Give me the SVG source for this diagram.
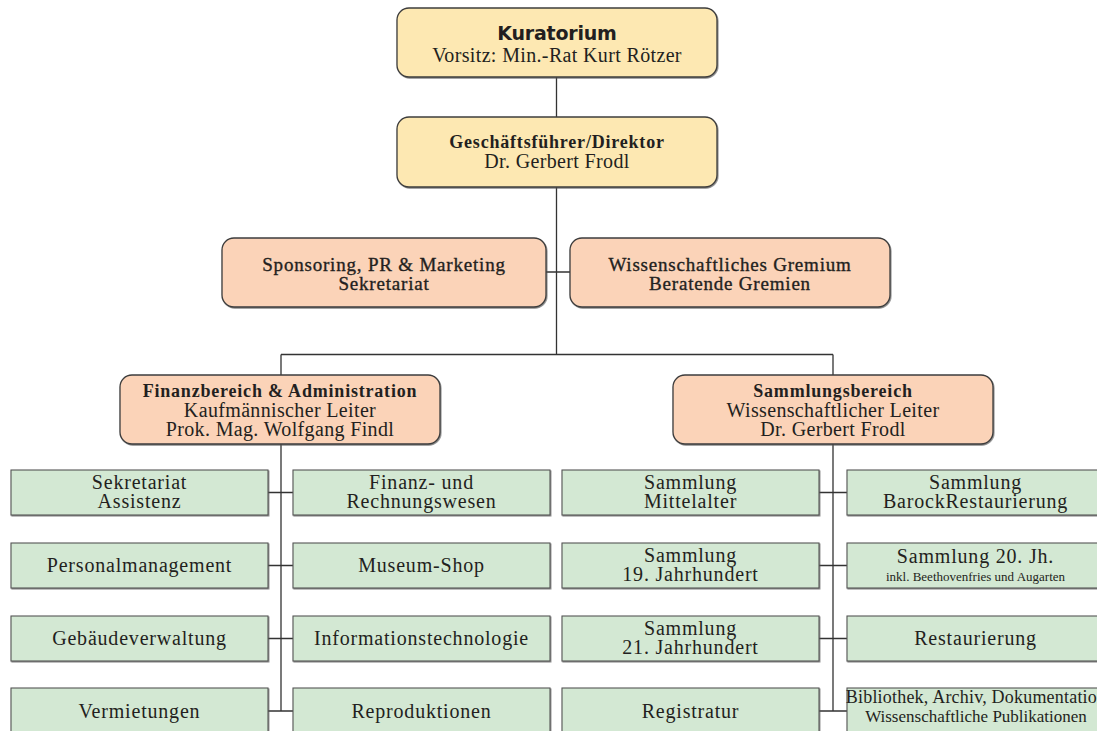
<svg xmlns="http://www.w3.org/2000/svg" width="1097" height="731" viewBox="0 0 1097 731">
<defs>
<filter id="sh" x="-5%" y="-5%" width="110%" height="120%">
<feDropShadow dx="0.8" dy="1" stdDeviation="0.5" flood-color="#555" flood-opacity="0.7"/>
</filter>
</defs>
<style>
.yel{fill:#fde8b2;stroke:#3c3c3c;stroke-width:1.3;filter:url(#sh)}
.sal{fill:#fbd3b8;stroke:#3c3c3c;stroke-width:1.3;filter:url(#sh)}
.grn{fill:#d3e8d3;stroke:#555;stroke-width:1.1;filter:url(#sh)}
text{font-family:"Liberation Serif","Times New Roman",serif;fill:#231f20;text-anchor:middle}
.r{font-size:20px;letter-spacing:0.35px}
.g{font-size:20px;letter-spacing:0.8px}
.b{font-size:18px;font-weight:bold;letter-spacing:0.8px}
.m{font-size:19px;letter-spacing:0.8px;stroke:#231f20;stroke-width:0.35}
.k{font-family:"DejaVu Sans",sans-serif;font-size:19px;font-weight:bold;letter-spacing:-0.2px}
.s{font-size:13px}
.n{font-size:17px}
.c{stroke:#333;stroke-width:1.3;fill:none}
</style>
<rect width="1097" height="731" fill="#ffffff"/>

<g id="connectors">
<path class="c" d="M556.5,77 V354.5 M546,272 H570 M281,354.5 H833 M281,354.5 V375 M833,354.5 V375"/>
<path class="c" d="M281,444 V711 M268,492.5 H293 M268,565.5 H293 M268,638.5 H293 M268,711 H293"/>
<path class="c" d="M833,444 V711 M819,492.5 H847 M819,565.5 H847 M819,638.5 H847 M819,711 H847"/>
</g>

<g id="kuratorium">
<rect class="yel" x="397" y="8" width="320" height="69" rx="12"/>
<text class="k" x="557" y="40">Kuratorium</text>
<text class="r" x="557" y="62">Vorsitz: Min.-Rat Kurt Rötzer</text>
</g>

<g id="direktor">
<rect class="yel" x="397" y="117" width="320" height="70" rx="12"/>
<text class="b" x="557" y="148">Geschäftsführer/Direktor</text>
<text class="r" x="557" y="168">Dr. Gerbert Frodl</text>
</g>

<g id="sponsoring">
<rect class="sal" x="222" y="238" width="324" height="69" rx="12"/>
<text class="m" x="384" y="271">Sponsoring, PR &amp; Marketing</text>
<text class="m" x="384" y="290">Sekretariat</text>
</g>

<g id="gremium">
<rect class="sal" x="570" y="238" width="320" height="69" rx="12"/>
<text class="m" x="730" y="271">Wissenschaftliches Gremium</text>
<text class="m" x="730" y="290">Beratende Gremien</text>
</g>

<g id="finanzbereich">
<rect class="sal" x="120" y="375" width="320" height="69" rx="12"/>
<text class="b" x="280" y="397">Finanzbereich &amp; Administration</text>
<text class="r" x="280" y="416.5">Kaufmännischer Leiter</text>
<text class="r" x="280" y="436">Prok. Mag. Wolfgang Findl</text>
</g>

<g id="sammlungsbereich">
<rect class="sal" x="673" y="375" width="320" height="69" rx="12"/>
<text class="b" x="833" y="397">Sammlungsbereich</text>
<text class="r" x="833" y="416.5">Wissenschaftlicher Leiter</text>
<text class="r" x="833" y="436">Dr. Gerbert Frodl</text>
</g>

<g id="sekretariat">
<rect class="grn" x="11" y="470" width="257" height="45"/>
<text class="g" x="139.5" y="489">Sekretariat</text>
<text class="g" x="139.5" y="508">Assistenz</text>
</g>
<g id="personal">
<rect class="grn" x="11" y="543" width="257" height="45"/>
<text class="g" x="139.5" y="572">Personalmanagement</text>
</g>
<g id="gebaeude">
<rect class="grn" x="11" y="616" width="257" height="45"/>
<text class="g" x="139.5" y="645">Gebäudeverwaltung</text>
</g>
<g id="vermietungen">
<rect class="grn" x="11" y="688" width="257" height="45"/>
<text class="g" x="139.5" y="718">Vermietungen</text>
</g>

<g id="finanzwesen">
<rect class="grn" x="293" y="470" width="257" height="45"/>
<text class="g" x="421.5" y="489">Finanz- und</text>
<text class="g" x="421.5" y="508">Rechnungswesen</text>
</g>
<g id="shop">
<rect class="grn" x="293" y="543" width="257" height="45"/>
<text class="g" x="421.5" y="572">Museum-Shop</text>
</g>
<g id="it">
<rect class="grn" x="293" y="616" width="257" height="45"/>
<text class="g" x="421.5" y="645">Informationstechnologie</text>
</g>
<g id="reproduktionen">
<rect class="grn" x="293" y="688" width="257" height="45"/>
<text class="g" x="421.5" y="718">Reproduktionen</text>
</g>

<g id="mittelalter">
<rect class="grn" x="562" y="470" width="257" height="45"/>
<text class="g" x="690.5" y="489">Sammlung</text>
<text class="g" x="690.5" y="508">Mittelalter</text>
</g>
<g id="jh19">
<rect class="grn" x="562" y="543" width="257" height="45"/>
<text class="g" x="690.5" y="562">Sammlung</text>
<text class="g" x="690.5" y="581">19. Jahrhundert</text>
</g>
<g id="jh21">
<rect class="grn" x="562" y="616" width="257" height="45"/>
<text class="g" x="690.5" y="635">Sammlung</text>
<text class="g" x="690.5" y="654">21. Jahrhundert</text>
</g>
<g id="registratur">
<rect class="grn" x="562" y="688" width="257" height="45"/>
<text class="g" x="690.5" y="718">Registratur</text>
</g>

<g id="barock">
<rect class="grn" x="847" y="470" width="257" height="45"/>
<text class="g" x="975.5" y="489">Sammlung</text>
<text class="g" x="975.5" y="508">BarockRestaurierung</text>
</g>
<g id="jh20">
<rect class="grn" x="847" y="543" width="257" height="45"/>
<text class="g" x="975.5" y="563">Sammlung 20. Jh.</text>
<text class="s" x="975.5" y="581">inkl. Beethovenfries und Augarten</text>
</g>
<g id="restaurierung">
<rect class="grn" x="847" y="616" width="257" height="45"/>
<text class="g" x="975.5" y="645">Restaurierung</text>
</g>
<g id="bibliothek">
<rect class="grn" x="847" y="688" width="257" height="45"/>
<text class="n" x="976" y="703" style="font-size:18px;letter-spacing:0.2px">Bibliothek, Archiv, Dokumentation</text>
<text class="n" x="976" y="722">Wissenschaftliche Publikationen</text>
</g>
</svg>
